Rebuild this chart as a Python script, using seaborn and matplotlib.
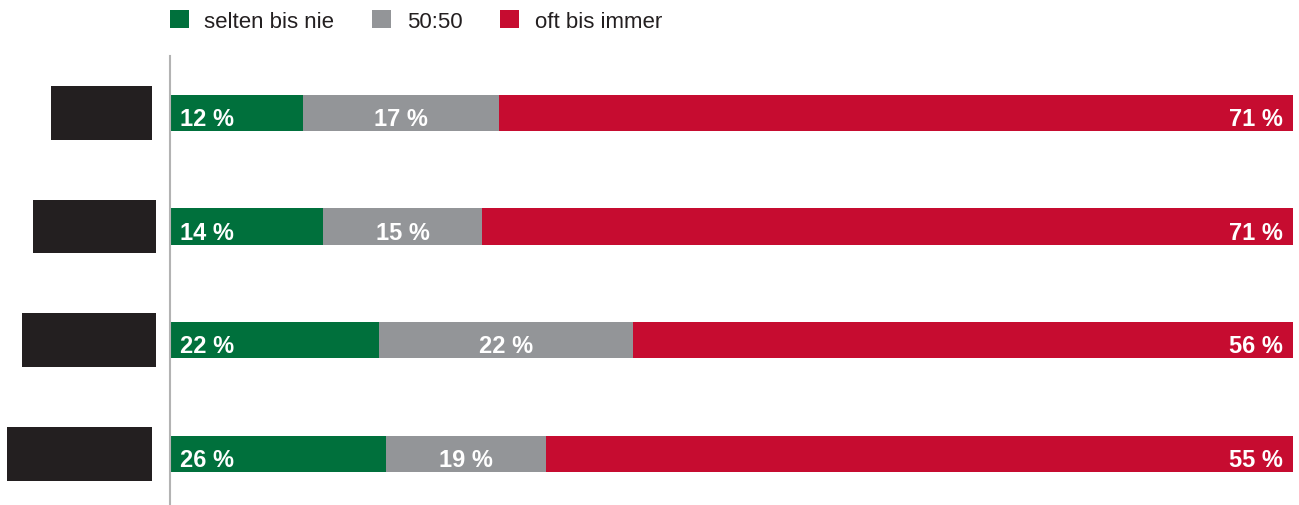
import pandas as pd
import matplotlib
matplotlib.use("Agg")
import matplotlib.pyplot as plt
import matplotlib.transforms as mtransforms
from matplotlib.patches import Patch, Rectangle
import seaborn as sns

# data
groups = ["Gruppe 1", "Gruppe 2", "Gruppe 3", "Gruppe 4"]
series = ["selten bis nie", "50:50", "oft bis immer"]
# segment lengths as drawn (share of the full bar, %)
selten = [11.8, 13.6, 18.6, 19.2]
fifty = [17.5, 14.2, 22.6, 14.3]
oft = [70.7, 72.2, 58.8, 66.5]
# printed value labels
selten_lbl = ["12 %", "14 %", "22 %", "26 %"]
fifty_lbl = ["17 %", "15 %", "22 %", "19 %"]
oft_lbl = ["71 %", "71 %", "56 %", "55 %"]
# blacked-out row labels: width and gap to the axis line (px)
label_box_px = [101, 123, 134, 145]
label_gap_px = [18, 14, 14, 18]

colors = {"selten bis nie": "#00703c", "50:50": "#939598", "oft bis immer": "#c60c30"}
text_dark = "#231f20"

df = pd.DataFrame({"group": groups, "selten": selten, "fifty": fifty, "oft": oft})
df["cum1"] = df["selten"]
df["cum2"] = df["selten"] + df["fifty"]
df["cum3"] = df["cum2"] + df["oft"]

sns.set_style("white")
plt.rcParams["font.family"] = ["Liberation Sans Narrow", "Liberation Sans", "DejaVu Sans"]

fig = plt.figure(figsize=(12.99, 5.06), dpi=100)
ax = fig.add_axes([170 / 1299, 0, 1123 / 1299, 449 / 506])

bar_h = 0.32
sns.barplot(data=df, x="cum3", y="group", color=colors["oft bis immer"], width=bar_h,
            orient="h", saturation=1, ax=ax)
sns.barplot(data=df, x="cum2", y="group", color=colors["50:50"], width=bar_h,
            orient="h", saturation=1, ax=ax)
sns.barplot(data=df, x="cum1", y="group", color=colors["selten bis nie"], width=bar_h,
            orient="h", saturation=1, ax=ax)
for p in ax.patches:
    p.set_linewidth(0)

ax.set_xlim(0, df["cum3"].max())
ax.set_ylim(3.45, -0.5)
ax.set_xlabel("")
ax.set_ylabel("")
ax.set_xticks([])
ax.set_yticks([])
for side in ["top", "right", "bottom"]:
    ax.spines[side].set_visible(False)
ax.spines["left"].set_color("#b3b3b3")
ax.spines["left"].set_linewidth(1.5)

# value labels
lbl_kw = dict(color="white", fontsize=17, fontweight="bold", va="center",
              textcoords="offset points")
for i in range(len(groups)):
    ax.annotate(selten_lbl[i], (0, i), xytext=(7, -4), ha="left", **lbl_kw)
    ax.annotate(fifty_lbl[i], (selten[i] + fifty[i] / 2, i), xytext=(0, -4),
                ha="center", **lbl_kw)
    ax.annotate(oft_lbl[i], (df["cum3"][i], i), xytext=(-7, -4), ha="right", **lbl_kw)

# blacked-out category labels
trans = mtransforms.blended_transform_factory(ax.transAxes, ax.transData)
for i, w in enumerate(label_box_px):
    right = -label_gap_px[i] / 1123
    ax.add_patch(Rectangle((right - w / 1123, i - 0.235), w / 1123, 0.47,
                           transform=trans, color=text_dark, clip_on=False, lw=0))

handles = [Patch(facecolor=colors[s], edgecolor="none", label=s) for s in series]
ax.legend(handles=handles, loc="center left", bbox_to_anchor=(0, 1 + 35 / 449),
          ncol=3, frameon=False, fontsize=16, handlelength=0.85, handleheight=0.85,
          handletextpad=0.7, columnspacing=1.7, borderaxespad=0, borderpad=0,
          labelcolor=text_dark)

fig.savefig("out.png", dpi=100)
